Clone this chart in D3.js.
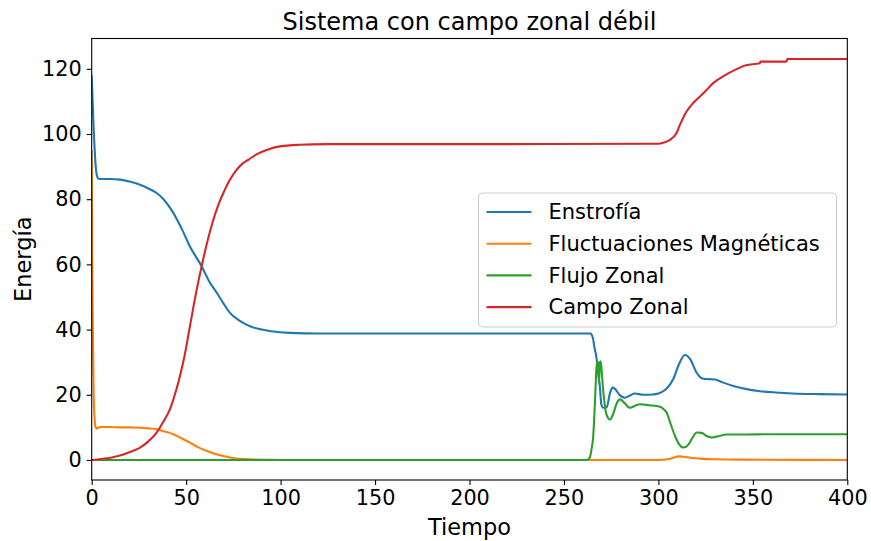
<!DOCTYPE html>
<html>
<head>
<meta charset="utf-8">
<script src="https://cdn.jsdelivr.net/npm/d3@7"></script>
<style>
    body { margin: 0; background: #fff; }
    svg { font-family: "DejaVu Sans", sans-serif; }
    .axis text { font-family: "DejaVu Sans", sans-serif; font-size: 20.8px; fill: #000; }
    .axis path, .axis line { stroke: #000; stroke-width: 1.1; }
</style>
</head>
<body>
<div id="chart"></div>
<script>
// [tiempo, energia]
var enstrofia = [[0,118],[0.5,110],[1,102],[1.5,96],[2,91],[2.5,88],[3,86.8],[3.5,86.3],[5,86.2],[10,86.2],
    [15,86],[20,85.4],[25.6,84.4],[30,83.3],[34.4,81.9],[38,80],[43.2,75.8],[48,70.5],[52,65.5],[58.2,59.4],
    [62,55],[66.2,51.3],[70,47.8],[73.2,45.1],[78,42.8],[83.8,41],[90,40],[95,39.5],[105,39],[120,38.8],
    [264,38.8],[264.6,38.5],[265.5,37],[266,35],[267.3,31],[268,27],[269,22.7],[269.8,17],[270.8,16],
    [272.6,16.2],[274.4,20.6],[275.7,22.2],[277,21.8],[279.7,19.8],[282.2,19.1],[285,19.8],[287.5,20.4],
    [292,20],[297,20.1],[300,20.4],[302.6,21.1],[305,22.3],[308,25],[311,29.5],[314,32.2],[317,30.8],
    [320,27],[323.8,24.9],[327,24.8],[330,24.7],[334,23.8],[339.7,22.7],[346,21.8],[353.8,21.1],
    [362,20.7],[371,20.4],[385,20.2],[400,20.1]];

var fluctuaciones = [[0,95],[0.3,60],[0.7,35],[1,22],[1.5,13],[2,10.2],[2.6,9.6],[3.5,9.9],[5,10.1],
    [10,10.1],[15,10],[20,10],[25.6,9.9],[30,9.7],[34.4,9.4],[38,8.8],[43.2,7.9],[48,6.5],[52,5.3],
    [56,4],[60.8,2.8],[65,1.9],[69.7,1.2],[74,0.7],[78.5,0.35],[85,0.15],[95,0.05],[100,0],[300,0],
    [305,0.2],[308,0.7],[310.5,1.1],[313,1],[317,0.7],[322,0.4],[330,0.2],[345,0.1],[400,0]];

var flujoZonal = [[0,0],[262,0],[263.7,0.7],[264.5,3],[265.5,7.3],[266.4,17.6],[267.2,28],[267.6,30.3],
    [268.2,29],[268.6,24],[269,30],[269.5,30.3],[270,27],[271,20],[272.5,14],[274.4,12.4],[276,14],
    [278,17.5],[279.7,18.6],[282,17.5],[285,16],[288,16.7],[290.3,17.1],[295,16.8],[300.9,16.3],
    [302.5,15.7],[304.4,14.5],[306.5,11],[308.8,7.35],[311,4.8],[313.2,3.8],[316,4.8],[318,6.8],
    [320.3,8.4],[323,8.3],[325,7.5],[328.2,6.9],[331,7.2],[336.2,7.8],[345,7.8],[360,7.9],[400,7.9]];

var campoZonal = [[0,0],[5,0.3],[10,0.7],[16.8,1.7],[21,2.6],[25.6,3.8],[30,5.7],[34.4,8.4],[38,11.8],
    [41.4,15.5],[44,20],[46.7,25.7],[49,31.5],[52,41],[55,50.5],[58.2,59.4],[61,66.5],[64.4,73.7],
    [67,78.2],[69.7,81.9],[73,85.8],[76.7,89],[80,91],[82.9,92.1],[88,94],[93,95.2],[99.7,96.2],
    [110,96.7],[124.4,96.9],[200,96.9],[300,97],[303,97.4],[306.1,98.2],[309.6,100.3],[311.4,102.8],
    [314.9,106.9],[318.4,109.5],[322,111.5],[325.5,113.5],[329,115.6],[332.6,117.1],[337,118.6],
    [341.4,119.9],[346.3,121.1],[353.7,121.7],[354,122.2],[367.8,122.2],[368.2,123],[400,123]];

var seriesNames = ["Enstrofía", "Fluctuaciones Magnéticas", "Flujo Zonal", "Campo Zonal"];
var xTicks = [0, 50, 100, 150, 200, 250, 300, 350, 400];
var yTicks = [0, 20, 40, 60, 80, 100, 120];

var
    margin = { top: 38.5, right: 23.7, bottom: 61, left: 91.7 },
    width = 871,
    height = 541,
    innerWidth = width - margin.left - margin.right,
    innerHeight = height - margin.top - margin.bottom,
    colors = ["#1f77b4", "#ff7f0e", "#2ca02c", "#d62728"];

var series = [enstrofia, fluctuaciones, flujoZonal, campoZonal];

var xScale = d3.scaleLinear().domain([0, 400]).range([0, innerWidth]);
var yScale = d3.scaleLinear().domain([-6.15, 129.3]).range([innerHeight, 0]);

var svg = d3.select("#chart").append("svg")
    .attr("width", width)
    .attr("height", height);

var g = svg.append("g")
    .attr("transform", "translate(" + margin.left + "," + margin.top + ")");

// clip para las lineas
g.append("clipPath").attr("id", "clip")
    .append("rect").attr("width", innerWidth).attr("height", innerHeight);

var line = d3.line()
    .curve(d3.curveMonotoneX)
    .x(function (d) { return xScale(d[0]); })
    .y(function (d) { return yScale(d[1]); });

g.append("g").attr("clip-path", "url(#clip)")
    .selectAll(".serie")
    .data(series)
    .enter().append("path")
    .attr("class", "serie")
    .attr("fill", "none")
    .attr("stroke", function (d, i) { return colors[i]; })
    .attr("stroke-width", 2.1)
    .attr("stroke-linejoin", "round")
    .attr("d", line);

g.append("g")
    .attr("class", "x axis")
    .attr("transform", "translate(0," + innerHeight + ")")
    .call(d3.axisBottom(xScale).tickValues(xTicks).tickSizeInner(5).tickSizeOuter(0).tickPadding(5))
    .select(".domain").remove();

g.append("g")
    .attr("class", "y axis")
    .call(d3.axisLeft(yScale).tickValues(yTicks).tickSizeInner(5).tickSizeOuter(0).tickPadding(5))
    .select(".domain").remove();

// bordes del area
g.append("rect")
    .attr("width", innerWidth)
    .attr("height", innerHeight)
    .attr("fill", "none")
    .attr("stroke", "#000")
    .attr("stroke-width", 1.1);

// titulo y etiquetas
svg.append("text")
    .attr("x", margin.left + innerWidth / 2)
    .attr("y", 30)
    .attr("text-anchor", "middle")
    .style("font-size", "24px")
    .text("Sistema con campo zonal débil");

svg.append("text")
    .attr("x", margin.left + innerWidth / 2)
    .attr("y", 535)
    .attr("text-anchor", "middle")
    .style("font-size", "22.5px")
    .text("Tiempo");

svg.append("text")
    .attr("transform", "translate(31," + (margin.top + innerHeight / 2) + ") rotate(-90)")
    .attr("text-anchor", "middle")
    .style("font-size", "22.5px")
    .text("Energía");

// leyenda
var legend = svg.append("g")
    .attr("transform", "translate(478.5,193)");

legend.append("rect")
    .attr("width", 358)
    .attr("height", 134)
    .attr("rx", 4)
    .attr("fill", "#fff")
    .attr("fill-opacity", 0.8)
    .attr("stroke", "#ccc")
    .attr("stroke-width", 1);

var item = legend.selectAll(".item")
    .data(seriesNames)
    .enter().append("g")
    .attr("class", "item")
    .attr("transform", function (d, i) { return "translate(0," + (19 + i * 31.7) + ")"; });

item.append("line")
    .attr("x1", 8).attr("x2", 53)
    .attr("stroke", function (d, i) { return colors[i]; })
    .attr("stroke-width", 2.1);

item.append("text")
    .attr("x", 70)
    .attr("dy", "0.35em")
    .style("font-size", "21px")
    .text(function (d) { return d; });
</script>
</body>
</html>
